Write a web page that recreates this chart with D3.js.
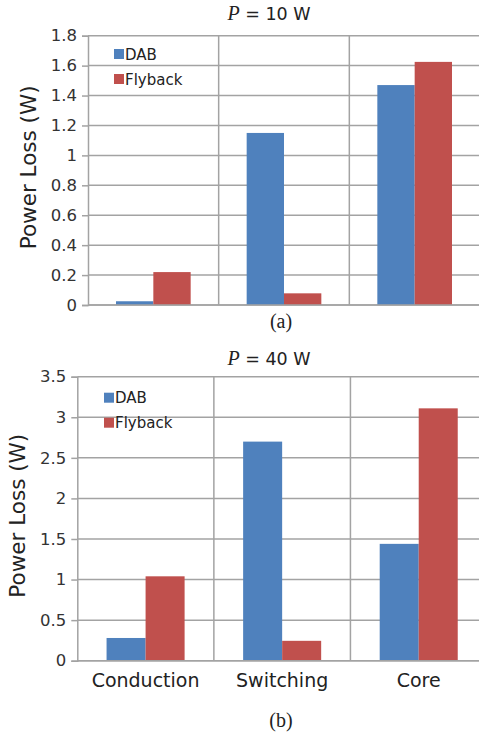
<!DOCTYPE html>
<html>
<head>
<meta charset="utf-8">
<script src="https://cdn.jsdelivr.net/npm/d3@7"></script>
<style>
    body { margin: 0; background: #fff; }
    svg { display: block; }
    .tick text { font-family: "DejaVu Sans", sans-serif; font-size: 16.5px; fill: #333; }
</style>
</head>
<body>
<div id="chart"></div>
<script>
// Loss breakdown, DAB vs Flyback
const categories = ['Conduction', 'Switching', 'Core'];
const series = ['DAB', 'Flyback'];
const colors = ['#4F81BD', '#C0504D'];

// (a) P = 10 W
const dab10 = [0.025, 1.15, 1.47];
const flyback10 = [0.22, 0.078, 1.625];
const ticks10 = [0, 0.2, 0.4, 0.6, 0.8, 1, 1.2, 1.4, 1.6, 1.8];

// (b) P = 40 W
const dab40 = [0.28, 2.70, 1.44];
const flyback40 = [1.04, 0.245, 3.11];
const ticks40 = [0, 0.5, 1, 1.5, 2, 2.5, 3, 3.5];

const width = 479, height = 736;
const grid = '#a3a3a3';

const svg = d3.select('#chart')
    .append('svg')
    .attr('width', width)
    .attr('height', height);

function drawPanel(p) {
    const g = svg.append('g');

    const x = d3.scaleBand()
        .domain(categories)
        .range([p.left, p.right]);

    const xs = d3.scaleBand()
        .domain(series)
        .range([0, x.bandwidth()])
        .paddingOuter(0.75);

    const y = d3.scaleLinear()
        .domain([0, p.ticks[p.ticks.length - 1]])
        .range([p.bottom, p.top]);

    // horizontal gridlines
    g.append('g')
        .selectAll('line')
        .data(p.ticks)
        .enter()
        .append('line')
        .attr('x1', p.left)
        .attr('x2', p.right)
        .attr('y1', d => y(d))
        .attr('y2', d => y(d))
        .attr('stroke', grid)
        .attr('stroke-width', 1.5);

    // vertical gridlines between categories
    g.append('g')
        .selectAll('line')
        .data(categories.slice(1))
        .enter()
        .append('line')
        .attr('x1', d => x(d))
        .attr('x2', d => x(d))
        .attr('y1', y.range()[1])
        .attr('y2', y.range()[0])
        .attr('stroke', grid)
        .attr('stroke-width', 1.5);

    // bars
    const rows = categories.map((c, i) => ({ cat: c, values: [p.dab[i], p.flyback[i]] }));
    g.append('g')
        .selectAll('g')
        .data(rows)
        .enter()
        .append('g')
        .attr('transform', d => `translate(${x(d.cat)},0)`)
        .selectAll('rect')
        .data(d => d.values.map((v, j) => ({ s: series[j], v: v, c: colors[j] })))
        .enter()
        .append('rect')
        .attr('x', d => xs(d.s))
        .attr('width', xs.bandwidth())
        .attr('y', d => y(d.v))
        .attr('height', d => y(0) - y(d.v))
        .attr('fill', d => d.c);

    // y axis
    const axis = g.append('g')
        .attr('transform', `translate(${p.left},0)`)
        .call(d3.axisLeft(y).tickValues(p.ticks).tickSize(6).tickPadding(5).tickFormat(d3.format('~g')));
    axis.select('.domain').attr('stroke', grid).attr('stroke-width', 1.5);
    axis.selectAll('.tick line').attr('stroke', grid).attr('stroke-width', 1.5);

    // x axis line
    g.append('line')
        .attr('x1', p.left)
        .attr('x2', p.right)
        .attr('y1', y(0))
        .attr('y2', y(0))
        .attr('stroke', grid)
        .attr('stroke-width', 1.5);

    if (p.showCats) {
        g.append('g')
            .selectAll('text')
            .data(categories)
            .enter()
            .append('text')
            .attr('x', d => x(d) + x.bandwidth() / 2)
            .attr('y', p.bottom + 26)
            .attr('text-anchor', 'middle')
            .style('font-family', '"DejaVu Sans", sans-serif')
            .style('font-size', '19px')
            .attr('fill', '#222')
            .text(d => d);
    }

    // y label
    g.append('text')
        .attr('transform', `translate(${p.labelX},${(p.top + p.bottom) / 2 - 3}) rotate(-90)`)
        .attr('text-anchor', 'middle')
        .style('font-family', '"DejaVu Sans", sans-serif')
        .style('font-size', '21.5px')
        .attr('fill', '#222')
        .text('Power Loss (W)');

    // legend
    const leg = g.append('g')
        .selectAll('g')
        .data(series)
        .enter()
        .append('g')
        .attr('transform', (d, i) => `translate(${p.legX},${p.legY + i * 25})`);
    leg.append('rect')
        .attr('x', 0)
        .attr('y', -5)
        .attr('width', 10)
        .attr('height', 10)
        .attr('fill', (d, i) => colors[i]);
    leg.append('text')
        .attr('x', 11)
        .attr('y', 5.5)
        .style('font-family', '"DejaVu Sans", sans-serif')
        .style('font-size', '15px')
        .attr('fill', '#222')
        .text(d => d);

    // title: P = .. W
    const t = g.append('text')
        .attr('x', 269)
        .attr('y', p.titleY)
        .attr('text-anchor', 'middle')
        .attr('fill', '#222')
        .style('font-size', '17.5px');
    t.append('tspan')
        .style('font-family', '"Liberation Serif", serif')
        .style('font-style', 'italic')
        .style('font-size', '20px')
        .text('P');
    t.append('tspan')
        .style('font-family', '"DejaVu Sans", sans-serif')
        .text(` = ${p.power} W`);

    // caption
    g.append('text')
        .attr('x', 281)
        .attr('y', p.captionY)
        .attr('text-anchor', 'middle')
        .style('font-family', '"Liberation Serif", serif')
        .style('font-size', '20px')
        .attr('fill', '#222')
        .text(p.caption);
}

drawPanel({
    dab: dab10, flyback: flyback10, ticks: ticks10,
    left: 88, right: 480, top: 35.7, bottom: 305,
    legX: 114, legY: 54, labelX: 36,
    titleY: 20, power: 10, caption: '(a)', captionY: 328,
    showCats: false
});

drawPanel({
    dab: dab40, flyback: flyback40, ticks: ticks40,
    left: 77.3, right: 487, top: 376.7, bottom: 660.7,
    legX: 104, legY: 397.7, labelX: 25,
    titleY: 365, power: 40, caption: '(b)', captionY: 727,
    showCats: true
});
</script>
</body>
</html>
